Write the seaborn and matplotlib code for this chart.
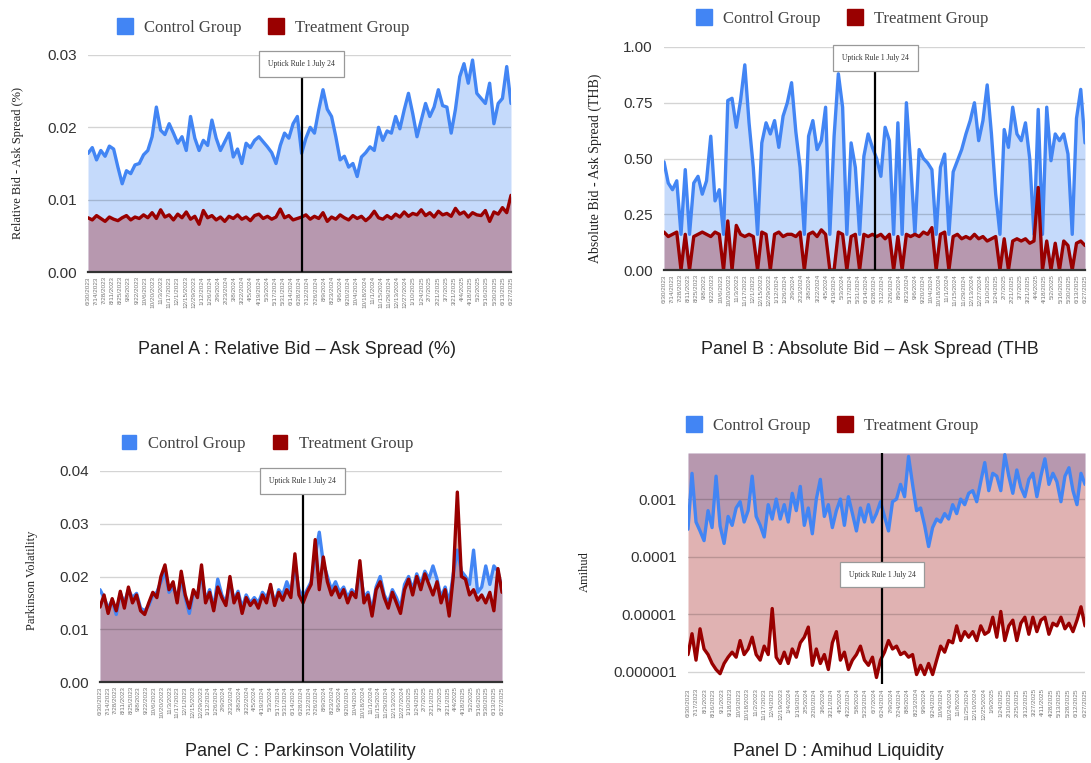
import numpy as np
import matplotlib
matplotlib.use("Agg")
import matplotlib.pyplot as plt
import seaborn as sns
from matplotlib.lines import Line2D

# =============================================================================
# Data (~100 samples per series)
# =============================================================================

A_CONTROL = [
    0.0164, 0.0172, 0.0155, 0.0168, 0.0160, 0.0174, 0.0170, 0.0145, 0.0122, 0.0140,
    0.0136, 0.0148, 0.0150, 0.0162, 0.0168, 0.0187, 0.0228, 0.0196, 0.0190, 0.0205,
    0.0192, 0.0178, 0.0187, 0.0168, 0.0215, 0.0185, 0.0168, 0.0182, 0.0175, 0.0210,
    0.0185, 0.0168, 0.0180, 0.0192, 0.0159, 0.0170, 0.0150, 0.0178, 0.0172, 0.0182,
    0.0187, 0.0180, 0.0173, 0.0165, 0.0150, 0.0175, 0.0192, 0.0185, 0.0205, 0.0215,
    0.0164, 0.0185, 0.0200, 0.0192, 0.0224, 0.0252, 0.0225, 0.0215, 0.0187, 0.0155,
    0.0160, 0.0145, 0.0150, 0.0132, 0.0159, 0.0165, 0.0173, 0.0168, 0.0200, 0.0182,
    0.0195, 0.0192, 0.0215, 0.0198, 0.0224, 0.0247, 0.0219, 0.0187, 0.0210, 0.0233,
    0.0215, 0.0228, 0.0252, 0.0230, 0.0228, 0.0192, 0.0225, 0.0270, 0.0288, 0.0261,
    0.0293, 0.0247, 0.0240, 0.0233, 0.0261, 0.0205, 0.0233, 0.0240, 0.0284, 0.0233,
]
A_TREATMENT = [
    0.0075, 0.0072, 0.0078, 0.0074, 0.0070, 0.0076, 0.0073, 0.0071, 0.0075, 0.0078,
    0.0072, 0.0076, 0.0074, 0.0079, 0.0075, 0.0082, 0.0074, 0.0086, 0.0076, 0.0079,
    0.0072, 0.0080, 0.0075, 0.0083, 0.0073, 0.0077, 0.0066, 0.0085, 0.0075, 0.0078,
    0.0072, 0.0076, 0.0070, 0.0077, 0.0074, 0.0079, 0.0073, 0.0076, 0.0071, 0.0078,
    0.0080, 0.0074, 0.0077, 0.0073, 0.0076, 0.0087, 0.0075, 0.0078, 0.0072, 0.0074,
    0.0076, 0.0079, 0.0073, 0.0077, 0.0074, 0.0082, 0.0070, 0.0076, 0.0073, 0.0079,
    0.0075, 0.0072, 0.0078, 0.0074, 0.0077, 0.0071, 0.0076, 0.0084, 0.0075, 0.0073,
    0.0078, 0.0074, 0.0080, 0.0076, 0.0083, 0.0077, 0.0081, 0.0079, 0.0086, 0.0078,
    0.0082, 0.0076, 0.0084, 0.0079, 0.0081, 0.0077, 0.0088, 0.0080, 0.0083, 0.0076,
    0.0082, 0.0079, 0.0078, 0.0085, 0.0070, 0.0083, 0.0080, 0.0089, 0.0082, 0.0106,
]

B_CONTROL = [
    0.485, 0.39, 0.36, 0.40, 0.16, 0.45, 0.16, 0.39, 0.42, 0.34,
    0.40, 0.60, 0.31, 0.36, 0.16, 0.76, 0.77, 0.64, 0.76, 0.92,
    0.66, 0.46, 0.16, 0.57, 0.66, 0.61, 0.67, 0.55, 0.69, 0.75,
    0.84, 0.62, 0.46, 0.16, 0.60, 0.67, 0.54, 0.58, 0.73, 0.16,
    0.60, 0.88, 0.73, 0.16, 0.57, 0.46, 0.16, 0.51, 0.61, 0.55,
    0.50, 0.42, 0.64, 0.58, 0.16, 0.66, 0.16, 0.75, 0.48, 0.16,
    0.54, 0.50, 0.48, 0.45, 0.16, 0.46, 0.52, 0.16, 0.44, 0.49,
    0.54, 0.61, 0.67, 0.75, 0.58, 0.67, 0.83, 0.61, 0.34, 0.16,
    0.63, 0.55, 0.73, 0.61, 0.58, 0.66, 0.50, 0.16, 0.72, 0.16,
    0.73, 0.49, 0.61, 0.58, 0.61, 0.52, 0.16, 0.68, 0.81, 0.57,
]
B_TREATMENT = [
    0.17, 0.15, 0.16, 0.17, 0.00, 0.16, 0.00, 0.15, 0.16, 0.17,
    0.16, 0.15, 0.17, 0.16, 0.00, 0.22, 0.00, 0.20, 0.16, 0.15,
    0.16, 0.15, 0.00, 0.17, 0.16, 0.00, 0.16, 0.17, 0.15, 0.16,
    0.16, 0.15, 0.17, 0.00, 0.16, 0.17, 0.15, 0.18, 0.16, 0.00,
    0.00, 0.17, 0.16, 0.00, 0.15, 0.16, 0.00, 0.16, 0.15, 0.16,
    0.15, 0.16, 0.14, 0.16, 0.00, 0.15, 0.00, 0.16, 0.15, 0.16,
    0.15, 0.17, 0.16, 0.19, 0.00, 0.16, 0.17, 0.00, 0.15, 0.16,
    0.14, 0.15, 0.14, 0.16, 0.14, 0.15, 0.13, 0.14, 0.15, 0.00,
    0.14, 0.00, 0.13, 0.14, 0.13, 0.14, 0.12, 0.13, 0.37, 0.00,
    0.13, 0.00, 0.12, 0.00, 0.13, 0.11, 0.00, 0.12, 0.13, 0.11,
]

C_CONTROL = [
    0.0175, 0.0160, 0.0140, 0.0155, 0.0128, 0.0168, 0.0150, 0.0175, 0.0160, 0.0168,
    0.0140, 0.0135, 0.0145, 0.0165, 0.0170, 0.0190, 0.0210, 0.0170, 0.0180, 0.0160,
    0.0195, 0.0160, 0.0130, 0.0170, 0.0165, 0.0205, 0.0155, 0.0175, 0.0140, 0.0195,
    0.0165, 0.0150, 0.0190, 0.0155, 0.0172, 0.0140, 0.0165, 0.0150, 0.0160, 0.0150,
    0.0170, 0.0160, 0.0180, 0.0150, 0.0175, 0.0165, 0.0190, 0.0170, 0.0220, 0.0175,
    0.0160, 0.0175, 0.0190, 0.0240, 0.0284, 0.0225, 0.0200, 0.0175, 0.0190, 0.0170,
    0.0180, 0.0160, 0.0175, 0.0165, 0.0215, 0.0160, 0.0170, 0.0135, 0.0180, 0.0200,
    0.0165, 0.0150, 0.0175, 0.0160, 0.0140, 0.0185, 0.0200, 0.0175, 0.0205, 0.0185,
    0.0210, 0.0195, 0.0220, 0.0195, 0.0160, 0.0180, 0.0150, 0.0205, 0.0250, 0.0210,
    0.0200, 0.0185, 0.0250, 0.0170, 0.0180, 0.0220, 0.0185, 0.0220, 0.0210, 0.0175,
]
C_TREATMENT = [
    0.0142, 0.0165, 0.0130, 0.0158, 0.0135, 0.0172, 0.0140, 0.0180, 0.0150, 0.0165,
    0.0135, 0.0128, 0.0150, 0.0170, 0.0160, 0.0200, 0.0222, 0.0175, 0.0190, 0.0150,
    0.0210, 0.0165, 0.0140, 0.0175, 0.0160, 0.0222, 0.0150, 0.0170, 0.0135, 0.0180,
    0.0160, 0.0145, 0.0200, 0.0150, 0.0168, 0.0130, 0.0160, 0.0145, 0.0155, 0.0140,
    0.0165, 0.0150, 0.0185, 0.0145, 0.0170, 0.0155, 0.0175, 0.0160, 0.0243, 0.0165,
    0.0150, 0.0170, 0.0185, 0.0270, 0.0175, 0.0237, 0.0190, 0.0165, 0.0180, 0.0160,
    0.0175, 0.0150, 0.0170, 0.0160, 0.0230, 0.0150, 0.0165, 0.0125, 0.0175, 0.0190,
    0.0160, 0.0140, 0.0170, 0.0150, 0.0130, 0.0175, 0.0195, 0.0165, 0.0200, 0.0175,
    0.0205, 0.0185, 0.0165, 0.0190, 0.0150, 0.0175, 0.0125, 0.0200, 0.0360, 0.0200,
    0.0195, 0.0165, 0.0175, 0.0155, 0.0165, 0.0150, 0.0170, 0.0135, 0.0215, 0.0170,
]

D_CONTROL = [
    0.00030, 0.00280, 0.00040, 0.00028, 0.00019, 0.00063, 0.00032, 0.00250, 0.00034, 0.00017,
    0.00050, 0.00035, 0.00070, 0.00090, 0.00040, 0.00063, 0.00250, 0.00050, 0.00035, 0.00022,
    0.00080, 0.00045, 0.00100, 0.00045, 0.00080, 0.00040, 0.00126, 0.00063, 0.00166, 0.00035,
    0.00070, 0.00025, 0.00100, 0.00220, 0.00050, 0.00080, 0.00032, 0.00063, 0.00100, 0.00035,
    0.00110, 0.00056, 0.00028, 0.00070, 0.00040, 0.00080, 0.00040, 0.00056, 0.00090, 0.00050,
    0.00028, 0.00090, 0.00100, 0.00180, 0.00110, 0.00550, 0.00180, 0.00063, 0.00070, 0.00035,
    0.00015, 0.00032, 0.00045, 0.00040, 0.00056, 0.00045, 0.00080, 0.00056, 0.00100, 0.00080,
    0.00126, 0.00140, 0.00090, 0.00200, 0.00430, 0.00140, 0.00280, 0.00250, 0.00140, 0.00590,
    0.00250, 0.00126, 0.00320, 0.00160, 0.00110, 0.00220, 0.00280, 0.00110, 0.00250, 0.00500,
    0.00180, 0.00280, 0.00200, 0.00090, 0.00250, 0.00350, 0.00140, 0.00080, 0.00280, 0.00180,
]
D_TREATMENT = [
    2.0e-6, 4.6e-6, 1.6e-6, 5.6e-6, 2.5e-6, 2.0e-6, 1.4e-6, 1.1e-6, 0.93e-6, 1.4e-6,
    1.8e-6, 2.2e-6, 1.8e-6, 3.5e-6, 2.0e-6, 2.5e-6, 4.0e-6, 2.0e-6, 1.6e-6, 2.8e-6,
    2.0e-6, 12.6e-6, 1.8e-6, 1.4e-6, 2.2e-6, 1.4e-6, 2.5e-6, 1.8e-6, 3.2e-6, 4.0e-6,
    6.0e-6, 1.3e-6, 2.5e-6, 1.4e-6, 2.0e-6, 1.1e-6, 3.2e-6, 5.0e-6, 1.6e-6, 2.2e-6,
    1.1e-6, 1.6e-6, 2.0e-6, 2.8e-6, 1.6e-6, 1.3e-6, 1.8e-6, 0.8e-6, 1.6e-6, 2.2e-6,
    3.5e-6, 2.5e-6, 2.8e-6, 2.0e-6, 2.2e-6, 1.8e-6, 2.0e-6, 0.9e-6, 1.3e-6, 0.9e-6,
    1.4e-6, 0.9e-6, 1.6e-6, 2.8e-6, 2.2e-6, 3.5e-6, 3.2e-6, 6.3e-6, 3.5e-6, 5.0e-6,
    4.0e-6, 5.0e-6, 3.5e-6, 6.3e-6, 4.5e-6, 5.0e-6, 8.9e-6, 4.0e-6, 11.2e-6, 3.5e-6,
    6.3e-6, 7.9e-6, 3.5e-6, 7.0e-6, 8.9e-6, 4.5e-6, 8.9e-6, 5.0e-6, 7.9e-6, 8.9e-6,
    4.5e-6, 7.0e-6, 6.3e-6, 8.9e-6, 5.6e-6, 7.0e-6, 5.0e-6, 7.9e-6, 13.5e-6, 6.3e-6,
]

DATES_ABC = [
    "6/30/2023", "7/14/2023", "7/28/2023", "8/11/2023", "8/25/2023", "9/8/2023",
    "9/22/2023", "10/6/2023", "10/20/2023", "11/3/2023", "11/17/2023", "12/1/2023",
    "12/15/2023", "12/29/2023", "1/12/2024", "1/26/2024", "2/9/2024", "2/23/2024",
    "3/8/2024", "3/22/2024", "4/5/2024", "4/19/2024", "5/3/2024", "5/17/2024",
    "5/31/2024", "6/14/2024", "6/28/2024", "7/12/2024", "7/26/2024", "8/9/2024",
    "8/23/2024", "9/6/2024", "9/20/2024", "10/4/2024", "10/18/2024", "11/1/2024",
    "11/15/2024", "11/29/2024", "12/13/2024", "12/27/2024", "1/10/2025", "1/24/2025",
    "2/7/2025", "2/21/2025", "3/7/2025", "3/21/2025", "4/4/2025", "4/18/2025",
    "5/2/2025", "5/16/2025", "5/30/2025", "6/13/2025", "6/27/2025",
]
DATES_D = [
    "6/30/2023", "7/17/2023", "8/1/2023", "8/16/2023", "9/1/2023", "9/18/2023",
    "10/3/2023", "10/18/2023", "11/2/2023", "11/17/2023", "12/4/2023", "12/19/2023",
    "1/4/2024", "1/19/2024", "2/5/2024", "2/20/2024", "3/6/2024", "3/21/2024",
    "4/5/2024", "4/22/2024", "5/8/2024", "5/23/2024", "6/7/2024", "6/24/2024",
    "7/9/2024", "7/24/2024", "8/8/2024", "8/23/2024", "9/9/2024", "9/24/2024",
    "10/9/2024", "10/24/2024", "11/8/2024", "11/25/2024", "12/10/2024", "12/25/2024",
    "1/9/2025", "1/24/2025", "2/10/2025", "2/25/2025", "3/12/2025", "3/27/2025",
    "4/11/2025", "4/28/2025", "5/13/2025", "5/28/2025", "6/12/2025", "6/27/2025",
]

EVENT_LABEL = "Uptick Rule 1 July 24"

# =============================================================================
# Style
# =============================================================================

sns.set_style("white")
plt.rcParams["font.family"] = ["Liberation Sans", "DejaVu Sans"]

BLUE = "#4285f4"
RED = "#990000"
SERIF = ["Liberation Serif", "DejaVu Serif"]

W, H = 1091, 763
fig = plt.figure(figsize=(W / 100, H / 100), dpi=100)


def px_axes(left, top, right, bottom):
    return fig.add_axes([left / W, 1 - bottom / H, (right - left) / W, (bottom - top) / H])


def style_axes(ax, dates, n, yticks, yticklabels, bottom_spine=True):
    sns.despine(ax=ax, left=True, right=True, top=True, bottom=not bottom_spine)
    if bottom_spine:
        ax.spines["bottom"].set_color("#333333")
        ax.spines["bottom"].set_linewidth(1.6)
        ax.spines["bottom"].set_zorder(5)
    ax.set_xlim(0, n - 1)
    ax.set_xticks(np.linspace(0, n - 1, len(dates)))
    ax.set_xticklabels(dates, rotation=90, fontsize=4.6, color="#777777")
    ax.set_yticks(yticks)
    ax.set_yticklabels(yticklabels, fontsize=11, color="#333333")
    ax.tick_params(axis="both", length=0)
    ax.tick_params(axis="x", pad=3)
    ax.tick_params(axis="y", pad=8)
    ax.set_axisbelow(False)
    ax.yaxis.grid(True, color="black", alpha=0.17, lw=1.0)
    ax.xaxis.grid(False)
    ax.set_xlabel("")
    ax.set_ylabel("")


def event_marker(ax, idx, box_y, line_top):
    ax.axvline(idx, ymin=0, ymax=line_top, color="black", lw=1.6, zorder=6)
    ax.text(idx, box_y, EVENT_LABEL, transform=ax.get_xaxis_transform(),
            ha="center", va="center", fontsize=5.5, family=SERIF, color="#333333",
            zorder=7, clip_on=False,
            bbox=dict(boxstyle="square,pad=1.15", fc="white", ec="#999999", lw=0.9))


def area_panel(ax, ctrl, treat, ylim, yticks, yticklabels, dates, idx, box_y, line_top):
    x = np.arange(len(ctrl))
    ax.fill_between(x, 0, ctrl, color=BLUE, alpha=0.3, lw=0, zorder=1)
    ax.fill_between(x, 0, treat, color=RED, alpha=0.3, lw=0, zorder=1)
    sns.lineplot(x=x, y=ctrl, ax=ax, color=BLUE, lw=2.4, zorder=3)
    sns.lineplot(x=x, y=treat, ax=ax, color=RED, lw=2.4, zorder=4)
    ax.set_ylim(*ylim)
    style_axes(ax, dates, len(ctrl), yticks, yticklabels)
    event_marker(ax, idx, box_y, line_top)


def panel_legend(cx, cy, size):
    handles = [
        Line2D([], [], marker="s", ls="", color=BLUE, markersize=size),
        Line2D([], [], marker="s", ls="", color=RED, markersize=size),
    ]
    fig.legend(handles, ["Control Group", "Treatment Group"], loc="center",
               bbox_to_anchor=(cx / W, 1 - cy / H), ncol=2, frameon=False,
               prop={"family": SERIF, "size": 12}, labelcolor="#444444",
               handletextpad=0.6, columnspacing=1.6, handlelength=1.0)


# Panel A
axA = px_axes(88, 55, 511, 272)
area_panel(axA, A_CONTROL, A_TREATMENT, (0, 0.03), [0, 0.01, 0.02, 0.03],
           ["0.00", "0.01", "0.02", "0.03"], DATES_ABC, 50, 0.959, 0.903)
panel_legend(263, 28, 11)
fig.text(18 / W, 1 - 163 / H, "Relative Bid - Ask Spread (%)", rotation=90,
         ha="center", va="center", fontsize=9, family=SERIF, color="#222222")
fig.text(297 / W, 1 - 350 / H, "Panel A : Relative Bid \u2013 Ask Spread (%)",
         ha="center", va="center", fontsize=13, color="#222222")

# Panel B
axB = px_axes(664, 47, 1085, 270)
area_panel(axB, B_CONTROL, B_TREATMENT, (0, 1.0), [0, 0.25, 0.5, 0.75, 1.0],
           ["0.00", "0.25", "0.50", "0.75", "1.00"], DATES_ABC, 49.7, 0.95, 0.897)
panel_legend(842, 19, 11)
fig.text(595 / W, 1 - 168 / H, "Absolute Bid - Ask Spread (THB)", rotation=90,
         ha="center", va="center", fontsize=10, family=SERIF, color="#222222")
fig.text(870 / W, 1 - 350 / H, "Panel B : Absolute Bid \u2013 Ask Spread (THB",
         ha="center", va="center", fontsize=13, color="#222222")

# Panel C
axC = px_axes(100, 471, 502, 682)
area_panel(axC, C_CONTROL, C_TREATMENT, (0, 0.04), [0, 0.01, 0.02, 0.03, 0.04],
           ["0.00", "0.01", "0.02", "0.03", "0.04"], DATES_ABC, 49.9, 0.953, 0.896)
panel_legend(267, 444, 10)
fig.text(32 / W, 1 - 580 / H, "Parkinson Volatility", rotation=90,
         ha="center", va="center", fontsize=9, family=SERIF, color="#222222")
fig.text(300 / W, 1 - 752 / H, "Panel C : Parkinson Volatility",
         ha="center", va="center", fontsize=13, color="#222222")

# Panel D (log scale, areas filled from the line up to the top)
axD = px_axes(688, 453, 1085, 684)
D_TOP = 10 ** -2.2
D_BOTTOM = 10 ** -6.21
xd = np.arange(len(D_CONTROL))
axD.set_yscale("log")
axD.fill_between(xd, D_CONTROL, D_TOP, color=BLUE, alpha=0.3, lw=0, zorder=1)
axD.fill_between(xd, D_TREATMENT, D_TOP, color=RED, alpha=0.3, lw=0, zorder=1)
sns.lineplot(x=xd, y=D_CONTROL, ax=axD, color=BLUE, lw=2.4, zorder=3)
sns.lineplot(x=xd, y=D_TREATMENT, ax=axD, color=RED, lw=2.4, zorder=4)
axD.set_ylim(D_BOTTOM, D_TOP)
style_axes(axD, DATES_D, len(D_CONTROL), [1e-6, 1e-5, 1e-4, 1e-3],
           ["0.000001", "0.00001", "0.0001", "0.001"], bottom_spine=False)
axD.minorticks_off()
event_marker(axD, 48.4, 0.474, 1.0)
panel_legend(832, 426, 12)
fig.text(585 / W, 1 - 572 / H, "Amihud", rotation=90,
         ha="center", va="center", fontsize=9, family=SERIF, color="#222222")
fig.text(838 / W, 1 - 752 / H, "Panel D : Amihud Liquidity",
         ha="center", va="center", fontsize=13, color="#222222")

fig.savefig("out.png", dpi=100)
